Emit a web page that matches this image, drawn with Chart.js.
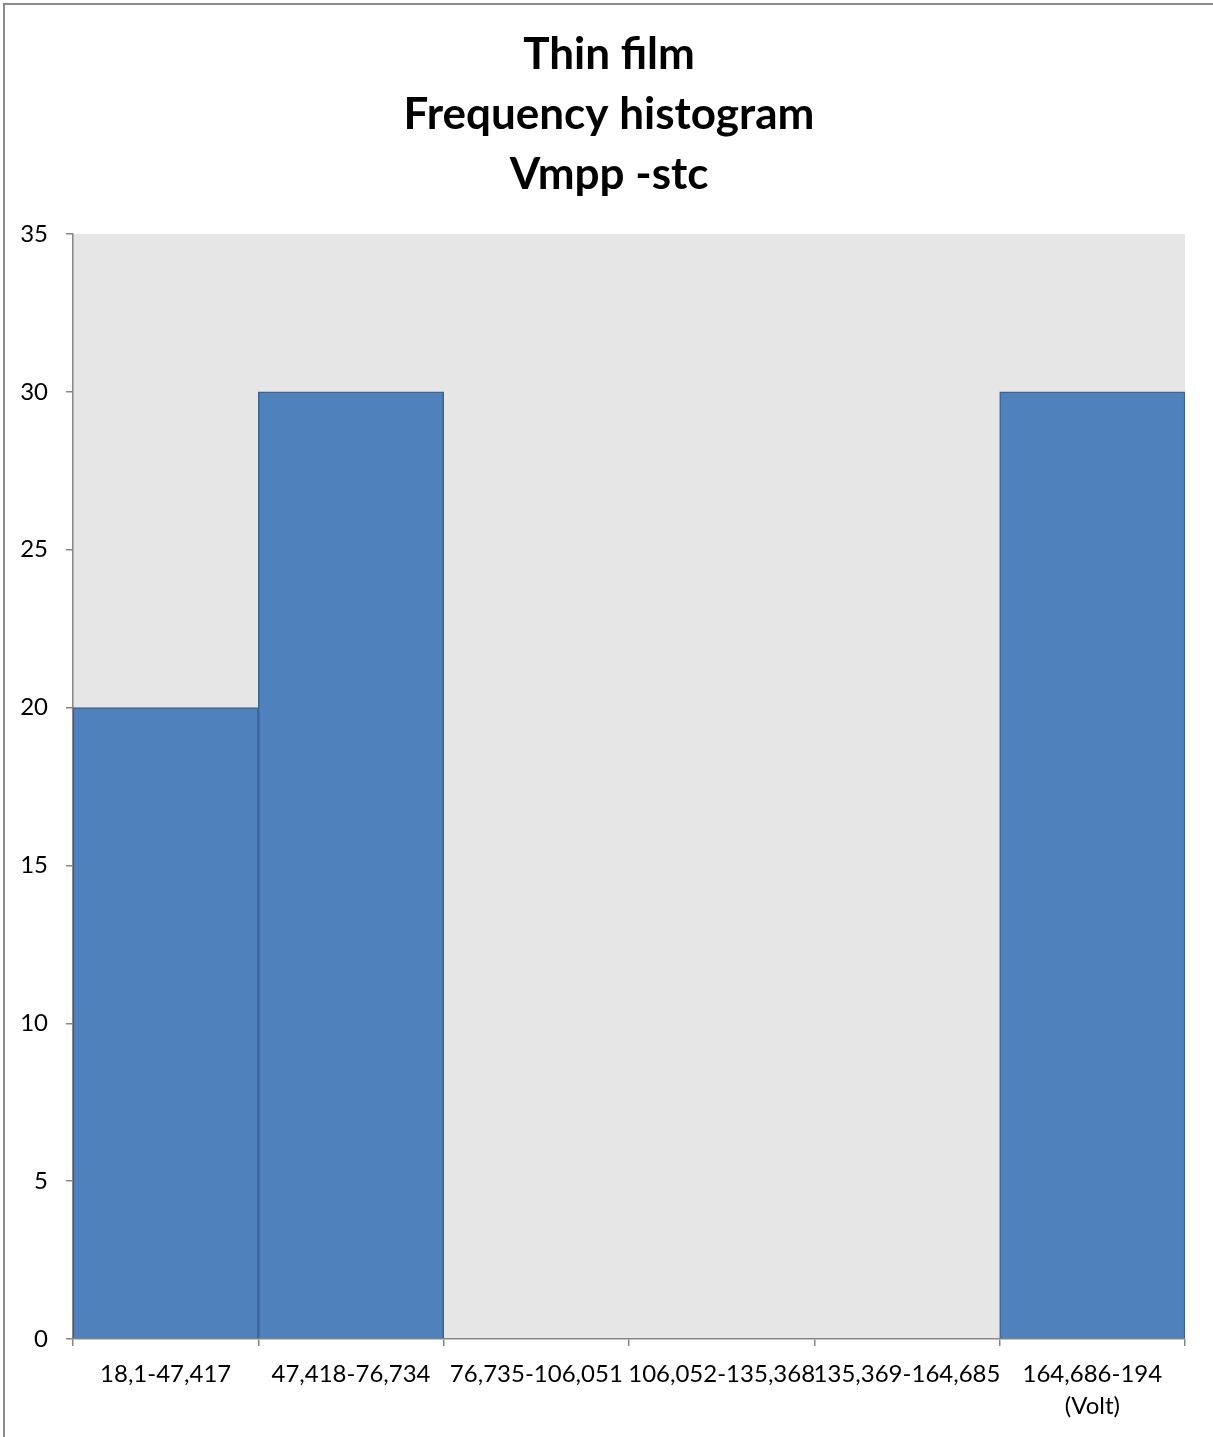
<!DOCTYPE html>
<html>
<head>
<meta charset="utf-8">
<script src="https://cdn.jsdelivr.net/npm/chart.js@4"></script>
<style>
  html, body { margin: 0; padding: 0; background: #fff; }
  .wrap { position: relative; width: 1213px; height: 1437px; }
  .frame { position: absolute; left: 3px; top: 3px; width: 1300px; height: 1500px;
           border-left: 2px solid #8c8c8c; border-top: 2px solid #8c8c8c; pointer-events: none; }
</style>
</head>
<body>
<div class="wrap">
  <canvas id="histChart" width="1213" height="1437"></canvas>
  <div class="frame"></div>
</div>
<script>
const titleLines = ['Thin film', 'Frequency histogram', 'Vmpp -stc'];
const categories = [
    '18,1-47,417',
    '47,418-76,734',
    '76,735-106,051',
    '106,052-135,368',
    '135,369-164,685',
    ['164,686-194', '(Volt)']
];
const frequencies = [20, 30, 0, 0, 0, 30];
const yTicks = [0, 5, 10, 15, 20, 25, 30, 35];

// grey plot area behind the bars
const plotBackground = {
    id: 'plotBackground',
    beforeDraw(chart) {
        const a = chart.chartArea;
        const c = chart.ctx;
        c.save();
        c.fillStyle = '#e6e6e6';
        c.fillRect(a.left, a.top, a.right - a.left, a.bottom - a.top);
        c.restore();
    }
};

// centre the title on the whole canvas, not on the padded box
const centreTitle = {
    id: 'centreTitle',
    afterLayout(chart) {
        if (chart.titleBlock) {
            chart.titleBlock.left = 0;
            chart.titleBlock.right = chart.width + 5;
        }
    }
};

const ctx = document.getElementById('histChart').getContext('2d');
new Chart(ctx, {
    type: 'bar',
    data: {
        labels: categories,
        datasets: [{
            data: frequencies,
            backgroundColor: '#4f81bd',
            borderColor: '#3b6494',
            borderWidth: 1.5,
            barPercentage: 1,
            categoryPercentage: 1
        }]
    },
    plugins: [plotBackground, centreTitle],
    options: {
        responsive: false,
        animation: false,
        devicePixelRatio: 1,
        layout: { padding: { left: 0, right: 28, top: 0, bottom: 0 } },
        plugins: {
            legend: { display: false },
            tooltip: { enabled: false },
            title: {
                display: true,
                text: titleLines,
                color: '#000',
                font: { family: 'Lato', size: 44, weight: 'bold', lineHeight: 1.364 },
                padding: { top: 25, bottom: 29 }
            }
        },
        scales: {
            x: {
                afterFit(scale) { scale.height = 98; },
                grid: {
                    offset: true,
                    drawOnChartArea: false,
                    drawTicks: true,
                    tickLength: 7,
                    color: '#868686',
                    lineWidth: 1.5
                },
                border: { display: true, color: '#868686', width: 1.5 },
                ticks: {
                    color: '#000',
                    autoSkip: false,
                    maxRotation: 0,
                    minRotation: 0,
                    padding: 12,
                    font: { family: 'Lato', size: 24, lineHeight: 1.35 }
                }
            },
            y: {
                min: yTicks[0],
                max: yTicks[yTicks.length - 1],
                afterFit(scale) { scale.width = 73; },
                afterBuildTicks(scale) { scale.ticks = yTicks.map(v => ({ value: v })); },
                grid: {
                    drawOnChartArea: false,
                    drawTicks: true,
                    tickLength: 7,
                    color: '#868686',
                    lineWidth: 1.5
                },
                border: { display: true, color: '#868686', width: 1.5 },
                ticks: {
                    color: '#000',
                    padding: 18,
                    font: { family: 'Lato', size: 24 }
                }
            }
        }
    }
});
</script>
</body>
</html>
